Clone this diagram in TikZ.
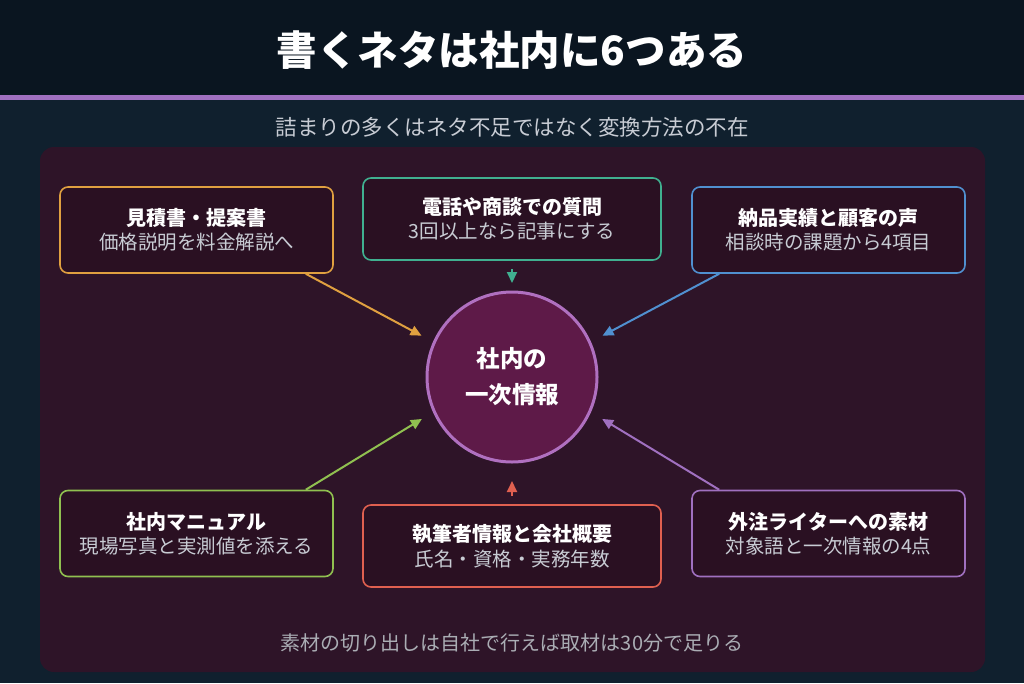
\documentclass[tikz,border=0pt]{standalone}
\usepackage{fontspec}
\setmainfont{Noto Sans CJK JP}
\usetikzlibrary{arrows.meta,positioning}
\definecolor{bgtop}{HTML}{0A1520}
\definecolor{bgmain}{HTML}{10202E}
\definecolor{panel}{HTML}{2E1428}
\definecolor{boxfill}{HTML}{2A1022}
\definecolor{hubfill}{HTML}{5E1A48}
\definecolor{hubline}{HTML}{B070C0}
\definecolor{cOrange}{HTML}{E0A040}
\definecolor{cTeal}{HTML}{40B090}
\definecolor{cBlue}{HTML}{5090D0}
\definecolor{cGreen}{HTML}{90C050}
\definecolor{cRed}{HTML}{E06050}
\definecolor{cPurple}{HTML}{A070C0}
\definecolor{subgray}{HTML}{C8CCD4}
\tikzset{
  srcbox/.style={draw=#1, line width=1.6pt, fill=boxfill, rounded corners=8pt,
    minimum width=273pt, minimum height=86pt, align=center, text=white},
  feed/.style={draw=#1, line width=2pt, -{Triangle[length=11pt,width=10pt]}, #1},
}
\newcommand{\boxtext}[2]{{\fontsize{20}{24}\selectfont\bfseries #1}\\[5pt]{\fontsize{19.5}{22}\selectfont\color{subgray}#2}}
\begin{document}
\begin{tikzpicture}[x=1pt,y=-1pt]
  \useasboundingbox (0,0) rectangle (1024,683);
  % background
  \fill[bgmain] (0,0) rectangle (1024,683);
  \fill[bgtop] (0,0) rectangle (1024,95);
  \fill[cPurple] (0,95) rectangle (1024,100);
  \node[text=white, font=\fontsize{40.5}{44}\selectfont\bfseries] (title) at (512,50) {書くネタは社内に6つある};
  \node[text=subgray, font=\fontsize{21.5}{24}\selectfont] (sub) at (512,127) {詰まりの多くはネタ不足ではなく変換方法の不在};
  \fill[panel, rounded corners=14pt] (40,147) rectangle (985,672);
  % hub
  \node[circle, draw=hubline, line width=3pt, fill=hubfill, minimum size=170pt, align=center,
    text=white, font=\fontsize{23.5}{36}\selectfont\bfseries] (hub) at (512,377) {社内の\\一次情報};
  % sources
  \node[srcbox=cOrange] (est) at (196.5,230) {\boxtext{見積書・提案書}{価格説明を料金解説へ}};
  \node[srcbox=cTeal, minimum width=298pt, minimum height=82pt] (call) at (512,219) {\boxtext{電話や商談での質問}{3回以上なら記事にする}};
  \node[srcbox=cBlue] (voice) at (828.5,230) {\boxtext{納品実績と顧客の声}{相談時の課題から4項目}};
  \node[srcbox=cGreen] (manual) at (196.5,533.5) {\boxtext{社内マニュアル}{現場写真と実測値を添える}};
  \node[srcbox=cRed, minimum width=298pt, minimum height=82pt] (author) at (512,546) {\boxtext{執筆者情報と会社概要}{氏名・資格・実務年数}};
  \node[srcbox=cPurple] (writer) at (828.5,533.5) {\boxtext{外注ライターへの素材}{対象語と一次情報の4点}};
  % connectors
  \coordinate (callend) at (512,283);
  \coordinate (authend) at (512,481);
  \draw[feed=cOrange, shorten >=13pt] (est.south east) ++(-28,0) coordinate (e1) (e1) -- (hub.156);
  \draw[feed=cBlue, shorten >=13pt] (voice.south west) ++(28,0) coordinate (v1) (v1) -- (hub.24);
  \draw[feed=cGreen, shorten >=13pt] (manual.north east) ++(-28,0) coordinate (m1) (m1) -- (hub.204);
  \draw[feed=cPurple, shorten >=13pt] (writer.north west) ++(28,0) coordinate (w1) (w1) -- (hub.336);
  \draw[feed=cTeal] (call.south) ++(0,8) coordinate (c1) (c1) -- (callend);
  \draw[feed=cRed] (author.north) ++(0,-8) coordinate (a1) (a1) -- (authend);
  \node[text=subgray!85!black, font=\fontsize{20}{24}\selectfont] (foot) at (512,643) {素材の切り出しは自社で行えば取材は30分で足りる};
\end{tikzpicture}
\end{document}
